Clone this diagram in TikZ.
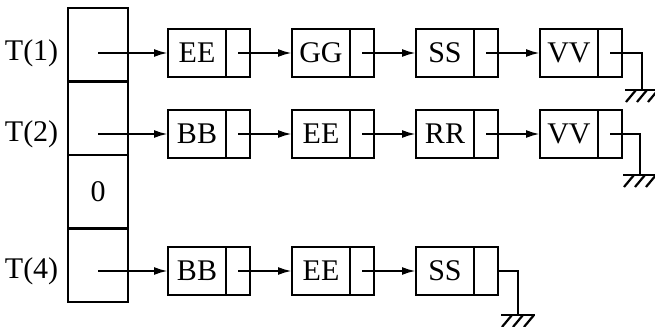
\documentclass[tikz,border=0pt]{standalone}
\usepackage{fontspec}
\setmainfont{Liberation Serif}
\usetikzlibrary{arrows.meta,positioning}

\begin{document}
\begin{tikzpicture}[
  x=0.5pt, y=-0.5pt,
  slot/.style={draw, minimum width=30pt, minimum height=36.75pt,
               inner sep=0pt, outer sep=0pt},
  datum/.style={draw, minimum width=29pt, minimum height=24pt,
                inner sep=0pt, outer sep=0pt},
  link/.style={draw, anchor=west, minimum width=12pt, minimum height=24pt,
               inner sep=0pt, outer sep=0pt},
  ptr/.style={-{Latex[length=7pt,width=4pt]}},
  earth/.pic={\draw (-17,0) -- (17,0);
              \foreach \h in {-6,5,16} \draw (\h,0) -- ++(-10,12);},
  node distance=21pt, line width=1.1pt,
  font=\fontsize{15}{18}\selectfont
]
  \useasboundingbox (0,0) rectangle (655,327);

  % hash table column
  \node[slot] (c1) at (98,44.75) {};
  \node[slot, below=0pt of c1] (c2) {};
  \node[slot, below=0pt of c2] (c3) {0};
  \node[slot, below=0pt of c3] (c4) {};

  % chain of T(1)
  \node[datum] (r1a) at (197,53) {EE};
  \node[link] (r1ap) at (r1a.east) {};
  \node[datum, right=of r1ap] (r1b) {GG};
  \node[link] (r1bp) at (r1b.east) {};
  \node[datum, right=of r1bp] (r1c) {SS};
  \node[link] (r1cp) at (r1c.east) {};
  \node[datum, right=of r1cp] (r1d) {VV};
  \node[link] (r1dp) at (r1d.east) {};

  % chain of T(2)
  \node[datum] (r2a) at (197,134) {BB};
  \node[link] (r2ap) at (r2a.east) {};
  \node[datum, right=of r2ap] (r2b) {EE};
  \node[link] (r2bp) at (r2b.east) {};
  \node[datum, right=of r2bp] (r2c) {RR};
  \node[link] (r2cp) at (r2c.east) {};
  \node[datum, right=of r2cp] (r2d) {VV};
  \node[link] (r2dp) at (r2d.east) {};

  % chain of T(4)
  \node[datum] (r4a) at (197,271) {BB};
  \node[link] (r4ap) at (r4a.east) {};
  \node[datum, right=of r4ap] (r4b) {EE};
  \node[link] (r4bp) at (r4b.east) {};
  \node[datum, right=of r4bp] (r4c) {SS};
  \node[link] (r4cp) at (r4c.east) {};

  \node[left=1pt] (t1) at (c1.west |- r1a) {T(1)};
  \node[left=1pt] (t2) at (c2.west |- r2a) {T(2)};
  \node[left=1pt] (t4) at (c4.west |- r4a) {T(4)};

  \draw[ptr] (c1.center |- r1a) -- (r1a);
  \draw[ptr] (r1ap.center) -- (r1b);
  \draw[ptr] (r1bp.center) -- (r1c);
  \draw[ptr] (r1cp.center) -- (r1d);

  \draw[ptr] (c2.center |- r2a) -- (r2a);
  \draw[ptr] (r2ap.center) -- (r2b);
  \draw[ptr] (r2bp.center) -- (r2c);
  \draw[ptr] (r2cp.center) -- (r2d);

  \draw[ptr] (c4.center |- r4a) -- (r4a);
  \draw[ptr] (r4ap.center) -- (r4b);
  \draw[ptr] (r4bp.center) -- (r4c);

  % null ends
  \coordinate (g1) at (642,90);
  \coordinate (g2) at (640,175);
  \coordinate (g4) at (518,315);
  \draw (r1dp.center) -| (g1);
  \draw (r2dp.center) -| (g2);
  \draw (r4cp.east) -| (g4);
  \pic at (g1) {earth};
  \pic at (g2) {earth};
  \pic at (g4) {earth};
\end{tikzpicture}
\end{document}
